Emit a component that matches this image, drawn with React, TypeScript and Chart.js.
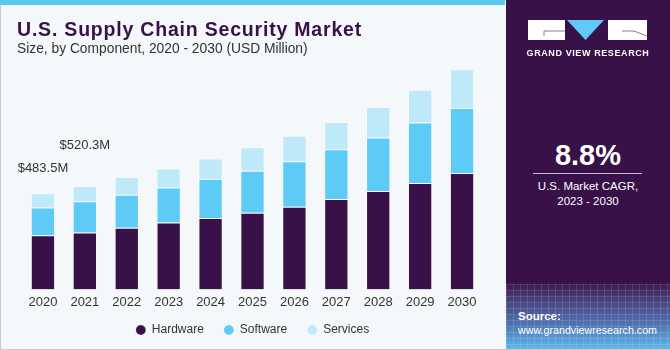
import React, { useEffect, useRef } from "react";
import { Chart, registerables } from "chart.js";

Chart.register(...registerables);

const years = ["2020", "2021", "2022", "2023", "2024", "2025", "2026", "2027", "2028", "2029", "2030"];
const hardware = [272.5, 287, 310, 337, 359, 386, 416, 455, 495, 535, 586];
const software = [140, 156.3, 167, 176, 196.5, 211, 229, 250.5, 270, 305, 327];
const services = [71, 77, 89, 96, 104, 119, 129, 137, 153, 165, 195];
const totalLabels = ["$483.5M", "$520.3M"];
const labelLift = [25, 41];

const FONT = "'Liberation Sans', Arial, sans-serif";

const totalsPlugin = {
  id: "totals",
  afterDatasetsDraw(chart: any) {
    const ctx = chart.ctx;
    const x = chart.scales.x;
    const y = chart.scales.y;
    ctx.save();
    ctx.font = `13px ${FONT}`;
    ctx.fillStyle = "#333333";
    ctx.textAlign = "center";
    ctx.textBaseline = "middle";
    totalLabels.forEach((t, i) => {
      const total = hardware[i] + software[i] + services[i];
      ctx.fillText(t, x.getPixelForValue(i), y.getPixelForValue(total) - labelLift[i]);
    });
    ctx.restore();
  },
};

const legendShift = {
  id: "legendShift",
  afterLayout(chart: any) {
    if (chart.legend) {
      chart.legend.top -= 11;
      chart.legend.bottom -= 11;
    }
  },
};

function BarChart() {
  const ref = useRef<HTMLCanvasElement | null>(null);
  useEffect(() => {
    if (!ref.current) return;
    const chart = new Chart(ref.current, {
      type: "bar",
      data: {
        labels: years,
        datasets: [
          {
            label: "Hardware",
            data: hardware,
            backgroundColor: "#371147",
            borderColor: "rgba(255,255,255,0.25)",
            borderWidth: 1,
            borderSkipped: "bottom",
          },
          {
            label: "Software",
            data: software,
            backgroundColor: "#5ecbf6",
            borderColor: "rgba(255,255,255,0.2)",
            borderWidth: 1,
            borderSkipped: "bottom",
          },
          {
            label: "Services",
            data: services,
            backgroundColor: "#bde9f9",
            borderColor: "rgba(255,255,255,0.3)",
            borderWidth: 1,
            borderSkipped: "bottom",
            borderRadius: { topLeft: 2, topRight: 2, bottomLeft: 0, bottomRight: 0 },
          },
        ],
      },
      options: {
        responsive: false,
        animation: false,
        devicePixelRatio: 1,
        layout: { padding: { left: 22, right: 22, top: 51, bottom: 0 } },
        datasets: { bar: { barPercentage: 0.58, categoryPercentage: 1 } },
        scales: {
          x: {
            stacked: true,
            grid: { display: false, drawTicks: false },
            border: { display: false },
            ticks: { color: "#333333", font: { family: FONT, size: 13 }, padding: 5 },
          },
          y: { stacked: true, display: false, min: 0, max: 1200 },
        },
        plugins: {
          legend: {
            position: "bottom",
            labels: {
              usePointStyle: true,
              pointStyle: "circle",
              boxHeight: 7,
              pointStyleWidth: 10,
              padding: 20,
              color: "#333333",
              font: { family: FONT, size: 12 },
            },
          },
          tooltip: { enabled: false },
        },
      },
      plugins: [totalsPlugin, legendShift],
    } as any);
    return () => chart.destroy();
  }, []);
  return <canvas ref={ref} width={505} height={357} style={{ position: "absolute", left: 0, top: 0 }} />;
}

export default function App() {
  return (
    <div
      style={{
        position: "fixed",
        left: 0,
        top: 0,
        width: 670,
        height: 350,
        overflow: "hidden",
        fontFamily: FONT,
        background: "#f4f8fb",
      }}
    >
      <div style={{ position: "absolute", left: 0, top: 0, width: 505, height: 350, background: "#f4f8fb", borderLeft: "1px solid #c8c8c8", borderBottom: "1px solid #c8c8c8", boxSizing: "border-box" }} />
      <BarChart />
      <div style={{ position: "absolute", left: 0, top: 0, width: 505, height: 5, background: "#5dc8f0" }} />
      <div style={{ position: "absolute", left: 17, top: 17, fontSize: 19.5, fontWeight: 700, color: "#371147", letterSpacing: 0.8, whiteSpace: "nowrap", lineHeight: "24px" }}>
        U.S. Supply Chain Security Market
      </div>
      <div style={{ position: "absolute", left: 17, top: 41, fontSize: 13.8, color: "#333333", whiteSpace: "nowrap", lineHeight: "16px" }}>
        Size, by Component, 2020 - 2030 (USD Million)
      </div>

      <div style={{ position: "absolute", left: 506, top: 0, width: 164, height: 350, background: "#381149", overflow: "hidden" }}>
        <div
          style={{
            position: "absolute",
            left: 0,
            top: 282,
            width: 164,
            height: 68,
            background: "linear-gradient(to bottom, #3a1249 0%, #483a76 22%, #4f70ac 60%, #5cbaee 100%)",
          }}
        />
        <div
          style={{
            position: "absolute",
            left: 0,
            top: 284,
            width: 164,
            height: 66,
            backgroundImage:
              "repeating-linear-gradient(to right, rgba(255,255,255,0.12) 0px, rgba(255,255,255,0.12) 1px, transparent 1px, transparent 7px), repeating-linear-gradient(to bottom, rgba(255,255,255,0.12) 0px, rgba(255,255,255,0.12) 1px, transparent 1px, transparent 6px)",
          }}
        />
        <svg width={164} height={60} style={{ position: "absolute", left: 0, top: 0 }}>
          <rect x={22} y={20} width={37} height={20} fill="#ffffff" />
          <polyline points="38,36 38,31 59,31" fill="none" stroke="#8a7a96" strokeWidth={1} />
          <polygon points="61,20 98,20 79.5,40" fill="#5ecbf6" />
          <rect x={102} y={20} width={39} height={20} fill="#ffffff" />
          <polyline points="116,31 128,31 141,36" fill="none" stroke="#8a7a96" strokeWidth={1} />
        </svg>
        <div style={{ position: "absolute", left: 0, width: 164, top: 47, textAlign: "center", color: "#ffffff", fontSize: 9, fontWeight: 700, letterSpacing: 0.6, lineHeight: "12px", whiteSpace: "nowrap" }}>
          GRAND VIEW RESEARCH
        </div>
        <div style={{ position: "absolute", left: 0, width: 164, top: 138, textAlign: "center", color: "#ffffff", fontSize: 29, fontWeight: 700, lineHeight: "34px" }}>
          8.8%
        </div>
        <div style={{ position: "absolute", left: 27, width: 109, top: 172.5, height: 1.5, background: "#c9bdd3" }} />
        <div style={{ position: "absolute", left: 0, width: 164, top: 179, textAlign: "center", color: "#ffffff", fontSize: 11.5, lineHeight: "15px", whiteSpace: "nowrap" }}>
          U.S. Market CAGR,
          <br />
          2023 - 2030
        </div>
        <div style={{ position: "absolute", left: 12, top: 309, color: "#ffffff", fontSize: 11.5, fontWeight: 700, lineHeight: "14px" }}>Source:</div>
        <div style={{ position: "absolute", left: 12, top: 323, color: "#ffffff", fontSize: 10.7, lineHeight: "14px", whiteSpace: "nowrap" }}>
          www.grandviewresearch.com
        </div>
      </div>
      <div style={{ position: "absolute", left: 0, top: 349, width: 670, height: 1, background: "#c8c8c8" }} />
    </div>
  );
}
